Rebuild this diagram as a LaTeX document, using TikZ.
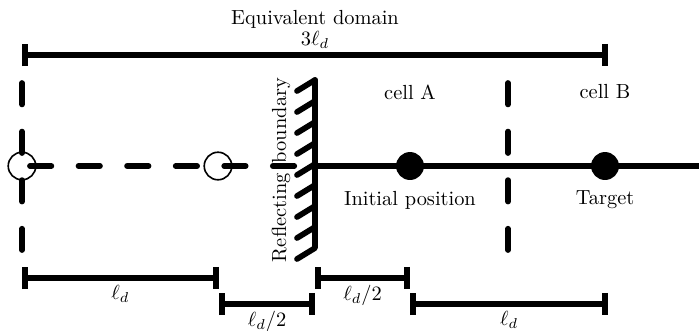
\documentclass[tikz,border=0pt]{standalone}
\usepackage{amsmath}
\usetikzlibrary{arrows.meta,positioning}
\tikzset{
  dimbar/.style={line width=2.8pt,{Bar[width=10.8pt]}-{Bar[width=10.8pt]}},
  dashln/.style={line width=2.8pt,line cap=round,dash pattern=on 10.5pt off 13.3pt},
  solidln/.style={line width=2.8pt},
  wallln/.style={line width=2.8pt,line cap=round,line join=round},
  hollowpt/.style={circle,draw,line width=0.8pt,minimum size=13.5pt,inner sep=0pt},
  fullpt/.style={circle,fill=black,minimum size=13.7pt,inner sep=0pt},
  lbl/.style={align=center,inner sep=2pt}
}

\begin{document}
\begin{tikzpicture}[x=0.49pt,y=-0.49pt,node distance=3pt]
  \useasboundingbox (0,0) rectangle (699,330);

  \coordinate (wall) at (315,166);
  \coordinate (east) at (699,166);
  \coordinate (lt) at (22,83);
  \coordinate (lb) at (22,250);
  \coordinate (ct) at (508,83);
  \coordinate (cb) at (508,250);

  \node[hollowpt] (img1) at (22,166) {};
  \node[hollowpt] (img2) at (218,166) {};
  \node[fullpt] (init) at (410,166) {};
  \node[fullpt] (tgt) at (605,166) {};

  \node[lbl, below=of init] (initlbl) {Initial position};
  \node[lbl, below=of tgt] (tgtlbl) {Target};
  \node[lbl] (cellA) at (410,92) {cell A};
  \node[lbl] (cellB) at (605,92) {cell B};
  \node[lbl, rotate=90] (rb) at (281,170) {Reflecting\hspace{5pt}boundary};

  \draw[dashln, dash phase=19.9pt] (img1.center) -- (wall);
  \draw[solidln] (wall) -- (east);
  \draw[dashln] (lt) -- (lb);
  \draw[dashln] (ct) -- (cb);

  \draw[wallln] (315,80) -- (315,248) -- (297,259);
  \foreach \k in {0,...,7}
    \draw[wallln] (315,80+21*\k) -- (297,91+21*\k);

  \coordinate (d0) at (22,55);
  \coordinate (d1) at (608,55);
  \draw[dimbar] (d0) -- (d1) node[midway,above,lbl] (eqdom) {Equivalent domain\\[-2pt]$3\ell_d$};

  \coordinate (a0) at (22,278);
  \coordinate (a1) at (219,278);
  \coordinate (b0) at (219,304);
  \coordinate (b1) at (315,304);
  \coordinate (c0) at (315,278);
  \coordinate (c1) at (410,278);
  \coordinate (e0) at (410,304);
  \coordinate (e1) at (608,304);
  \draw[dimbar] (a0) -- (a1) node[midway,below,lbl] (la) {$\ell_d$};
  \draw[dimbar] (b0) -- (b1) node[midway,below,lbl] (lb2) {$\ell_d/2$};
  \draw[dimbar] (c0) -- (c1) node[midway,below,lbl] (lc) {$\ell_d/2$};
  \draw[dimbar] (e0) -- (e1) node[midway,below,lbl] (le) {$\ell_d$};
\end{tikzpicture}
\end{document}
